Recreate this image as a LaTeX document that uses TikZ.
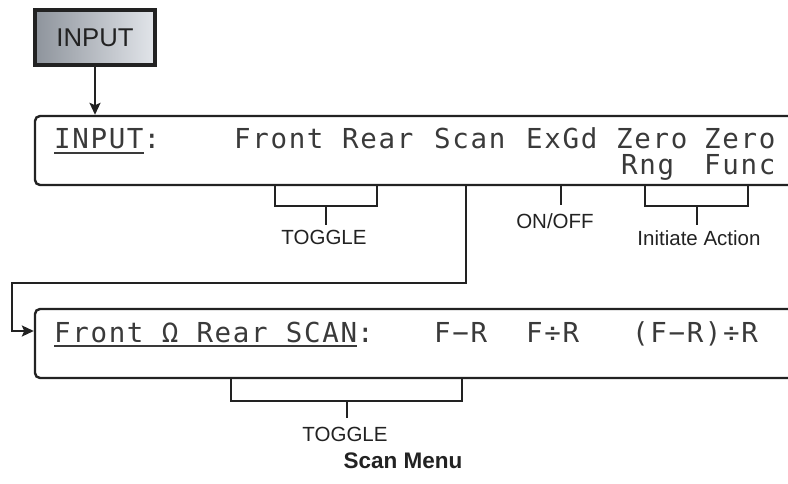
\documentclass[tikz,border=0pt]{standalone}
\usepackage{fontspec}
\setmainfont{Liberation Sans}
\newfontfamily\lcdfont[LetterSpace=6]{DejaVu Sans Mono}
\usetikzlibrary{arrows.meta}

\definecolor{ink}{HTML}{222222}
\definecolor{lcdink}{HTML}{3A3A3A}
\definecolor{btnleft}{HTML}{8E949C}
\definecolor{btnright}{HTML}{E2E5EA}

% underline as drawn on the display
\newcommand\lcdunder[1]{\setbox0\hbox{#1}\rlap{\rule[-5pt]{\wd0}{2pt}}\box0}

\begin{document}
\begin{tikzpicture}[
  x=1pt, y=-1pt,
  button/.style={rectangle, draw=ink, line width=3.5pt, left color=btnleft, right color=btnright,
    minimum width=120pt, minimum height=55pt, inner sep=0pt, font=\fontsize{25.7}{26}\selectfont, text=ink},
  lcdbox/.style={rectangle, draw=ink, line width=2.4pt, rounded corners=5pt,
    minimum width=780pt, minimum height=69pt, inner sep=0pt},
  lcd/.style={font=\lcdfont\fontsize{27.5}{28}\selectfont, text=lcdink, inner sep=0pt, anchor=base west},
  tag/.style={font=\fontsize{20.5}{21}\selectfont, text=ink, inner sep=0pt, anchor=north},
  link/.style={draw=ink, line width=2.2pt},
  brace/.style={draw=ink, line width=1.8pt},
  >={Stealth[length=12pt,width=11pt,inset=2.5pt]}
]
\useasboundingbox (0,0) rectangle (788,484);

\node[button] (inbtn) at (95,37.5) {INPUT};

% display rows
\node[lcdbox] (inputrow) at (425,150.5) {};
\node[lcdbox] (scanrow) at (425,343.5) {};

\node[lcd] (inname) at (54,149) {\lcdunder{INPUT}:};
\node[lcd] (front) at (234,149) {Front};
\node[lcd] (rear) at (342,149) {Rear};
\node[lcd] (scan) at (434,149) {Scan};
\node[lcd] (exgd) at (526,149) {ExGd};
\node[lcd] (zeroa) at (616,149) {Zero};
\node[lcd] (zerob) at (704,149) {Zero};
\node[lcd] (rng) at (621,175) {Rng};
\node[lcd] (func) at (704,175) {Func};

\node[lcd] (scanname) at (54,342) {\lcdunder{Front Ω Rear SCAN}:};
\node[lcd] (fmr) at (434,342) {F−R};
\node[lcd] (fdr) at (526,342) {F÷R};
\node[lcd] (fmrdr) at (632,342) {(F−R)÷R};

% labels
\node[tag] (togglein) at (324,230) {TOGGLE};
\node[tag] (onoff) at (555,213) {ON/OFF};
\node[tag] (initiate) at (699,230) {Initiate Action};
\node[tag] (togglescan) at (345,427) {TOGGLE};
\node[font=\bfseries\fontsize{22.5}{23}\selectfont, text=ink, inner sep=0pt, anchor=base] (title) at (403,468) {Scan Menu};

% bracket points
\coordinate (tgleft) at (275,206);
\coordinate (tgright) at (377,206);
\coordinate (tgstem) at (326,206);
\coordinate (exgdleg) at (561,205);
\coordinate (zrleft) at (645,206);
\coordinate (zrright) at (748,206);
\coordinate (zrstem) at (697,206);
\coordinate (scleft) at (231,401);
\coordinate (scright) at (462,401);
\coordinate (scstem) at (347,401);
\coordinate (scanleg) at (466,283);
\coordinate (loopturn) at (12,283);
\coordinate (loopin) at (12,331);

\draw[link,->] (inbtn.south) -- (inbtn.south |- inputrow.north);
\draw[link,->] (scanleg |- inputrow.south) -- (scanleg) -- (loopturn) -- (loopin) -- (loopin -| scanrow.west);

\draw[brace] (tgleft |- inputrow.south) -- (tgleft) -- (tgright) -- (tgright |- inputrow.south);
\draw[brace] (tgstem) -- ++(0,19);
\draw[brace] (exgdleg |- inputrow.south) -- (exgdleg);
\draw[brace] (zrleft |- inputrow.south) -- (zrleft) -- (zrright) -- (zrright |- inputrow.south);
\draw[brace] (zrstem) -- ++(0,19);
\draw[brace] (scleft |- scanrow.south) -- (scleft) -- (scright) -- (scright |- scanrow.south);
\draw[brace] (scstem) -- ++(0,17);

\end{tikzpicture}
\end{document}
